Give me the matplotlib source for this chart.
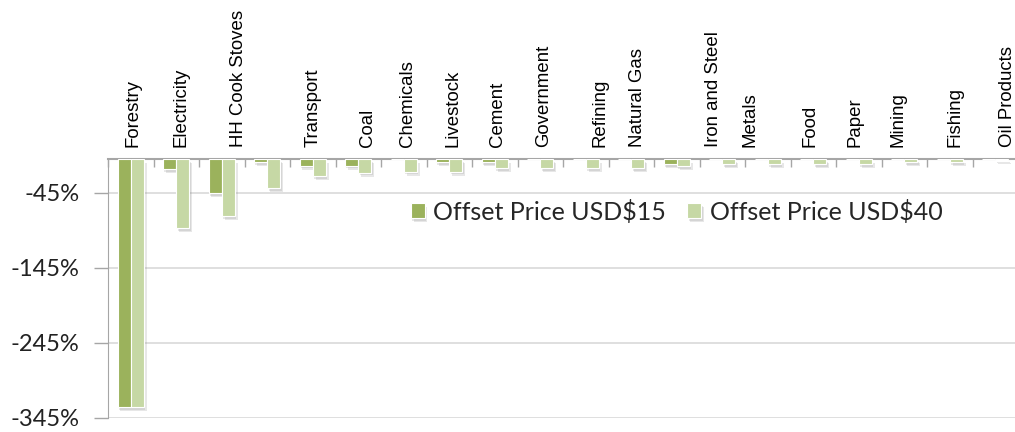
import numpy as np
import matplotlib
matplotlib.use("Agg")
import matplotlib.pyplot as plt
import matplotlib.patheffects as pe

# ── data ──────────────────────────────────────────────────────────────────────
sectors = ["Forestry", "Electricity", "HH Cook Stoves", "", "Transport", "Coal",
           "Chemicals", "Livestock", "Cement", "Government", "Refining",
           "Natural Gas", "", "Iron and Steel", "Metals", "Food", "Paper",
           "Mining", "Fishing", "Oil Products"]
price_15 = [-330, -13.7, -45.7, -4, -8.9, -8.9, 0, -4.4, -4.4, 0, 0, 0,
            -6.7, 0, 0, 0, 0, 0, 0, 0]
price_40 = [-330, -92.3, -75.9, -39, -22.6, -18.2, -16.9, -16.9, -12.4, -12.4,
            -12.4, -12.4, -9.3, -6.7, -6.7, -6.7, -6.7, -4.4, -4.4, -1.0]
y_ticks = [-45, -145, -245, -345]
# small horizontal nudges of the rotated labels (category units)
label_shift = [0.05, 0.11, 0.37, 0, 0, 0.2, 0.09, 0.09, 0.07, 0.07, 0.31,
               0.13, 0, -0.2, -0.4, -0.07, -0.09, -0.13, 0.11, 0.28]

DARK = "#9BB25C"
LIGHT = "#C6D8A5"

fig = plt.figure(figsize=(10.15, 4.32), dpi=100)
ax = fig.add_axes([108 / 1015, 14 / 432, 910 / 1015, 259 / 432])

x = np.arange(len(sectors))
w = 0.29
shadow = [pe.SimplePatchShadow(offset=(2, -3), shadow_rgbFace="#7f7f7f", alpha=0.18),
          pe.SimplePatchShadow(offset=(1, -2), shadow_rgbFace="#7f7f7f", alpha=0.18),
          pe.Normal()]

b1 = ax.bar(x - w / 2, price_15, w, color=DARK, edgecolor="white",
            linewidth=0.8, label="Offset Price USD$15", zorder=3)
b2 = ax.bar(x + w / 2, price_40, w, color=LIGHT, edgecolor="white",
            linewidth=0.8, label="Offset Price USD$40", zorder=3)
for p in list(b1) + list(b2):
    if p.get_height() != 0:
        p.set_path_effects(shadow)

ax.set_xlim(-0.5, len(sectors) - 0.5)
ax.set_ylim(-345, 0)

# y axis
ax.set_yticks(y_ticks)
ax.set_yticklabels([f"{t}%" for t in y_ticks], fontsize=17, family="Lato",
                   color="#222222")
ax.tick_params(axis="y", length=10, width=1, color="#A6A6A6", pad=10.5)
ax.grid(axis="y", color="#D9D9D9", linewidth=1.2, zorder=0)

# category axis sits at the top (zero line), ticks between categories
ax.xaxis.tick_top()
ax.set_xticks(np.arange(len(sectors) + 1) - 0.5)
ax.set_xticklabels([])
ax.tick_params(axis="x", direction="in", length=6, width=1, color="#A6A6A6")

for s in ["right", "bottom"]:
    ax.spines[s].set_visible(False)
ax.spines["top"].set_color("#A6A6A6")
ax.spines["top"].set_linewidth(1.5)
ax.spines["left"].set_color("#A6A6A6")

for i, name in enumerate(sectors):
    if not name:
        continue
    ax.annotate(name, xy=(i + label_shift[i], 1), xycoords=("data", "axes fraction"),
                xytext=(0, 8.5), textcoords="offset points", rotation=90,
                ha="center", va="bottom", fontsize=13.4, family="Liberation Sans",
                annotation_clip=False)

ax.legend(loc="upper left", bbox_to_anchor=(0.308, 0.93), ncol=2, frameon=False,
          prop={"family": "Lato", "size": 18}, handlelength=0.55,
          handleheight=0.55, handletextpad=0.35, columnspacing=0.85,
          labelcolor="#262626")

plt.savefig("out.png", dpi=100)
